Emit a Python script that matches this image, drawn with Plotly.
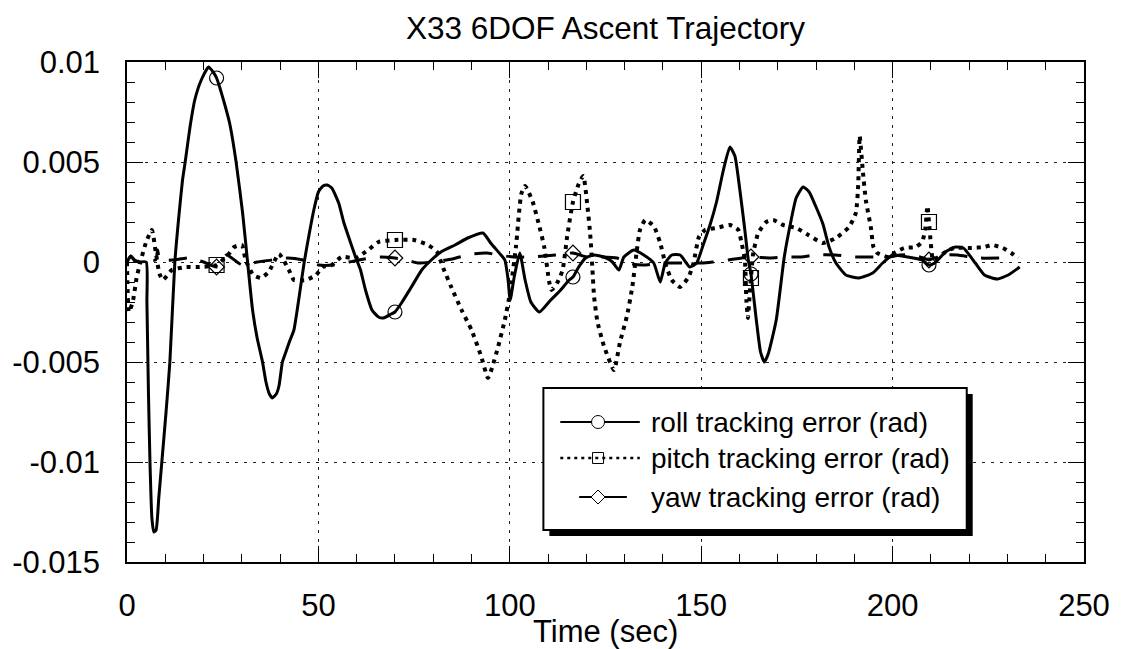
import numpy as np
import plotly.graph_objects as go

# ---- roll tracking error (rad) ----
t_roll = [0, 1, 2, 3, 5.0, 5.2, 5.6, 6.0, 6.5, 7.0, 7.6, 8.3, 9.1, 10.2, 11.2, 12.5,
          13.5, 14.5, 15.2, 16.5, 17.7, 19.4, 21.3, 22.5, 23.4, 24.2, 25.5, 26.8, 28.5,
          30.2, 31.5, 32.8, 34.0, 35.4, 36.3, 37.2, 38.0, 39.0, 39.7, 40.6, 41.5, 42.4,
          43.6, 45.0, 46.3, 47.5, 48.8, 50.0, 51.2, 52.3, 53.5, 55.3, 56.6, 57.9, 59.7,
          61.0, 62.3, 64.0, 65.7, 67.0, 69.0, 70.0, 71.7, 74.3, 77.0, 79.5, 82.0, 85.7,
          89.0, 93.0, 95.0, 97.7, 98.7, 99.5, 100.1, 101.2, 102.6, 104.0, 105.5, 107.7,
          110.7, 113.3, 115.5, 116.5, 118.0, 119.8, 122.0, 124.6, 126.8, 128.5, 129.8,
          132.4, 135.0, 137.6, 139.3, 140.6, 142.3, 144.5, 147.0, 148.8, 150.6, 152.3,
          154.0, 155.8, 157.5, 158.8, 160.0, 161.4, 162.3, 163.0, 164.4, 165.5, 166.5,
          167.5, 169.6, 171.7, 173.5, 174.8, 176.6, 178.2, 180.0, 181.8, 183.4, 185.2,
          187.8, 191.2, 194.8, 197.4, 200.0, 204.0, 207.7, 209.5, 211.0, 213.8, 216.4,
          218.5, 221.6, 224.0, 227.3, 230.2, 233.2]
roll = [0, 0.0003, 0.0001, 0, 0, -0.002, -0.0065, -0.010, -0.0128, -0.0135, -0.0134,
        -0.0118, -0.0100, -0.0075, -0.0050, 0.0, 0.0022, 0.0041, 0.0050, 0.0068, 0.0081,
        0.0091, 0.00975, 0.0095, 0.0092, 0.00875, 0.0079, 0.00695, 0.0050, 0.00245, 0.0,
        -0.0024, -0.0038, -0.0050, -0.0060, -0.0066, -0.0068, -0.0066, -0.0062, -0.0050,
        -0.0045, -0.0040, -0.0034, -0.0017, 0.0, 0.0013, 0.0026, 0.0035, 0.0038, 0.00385,
        0.0037, 0.00295, 0.0020, 0.00125, 0.00025, -0.0004, -0.0014, -0.0024, -0.00275,
        -0.0028, -0.0026, -0.0025, -0.00205, -0.00125, -0.0004, 0.0001, 0.0005, 0.00085,
        0.0012, 0.00145, 0.00095, 0.00035, 0.0001, -0.0008, -0.0019, -0.0007, 0.00045,
        -0.0009, -0.0020, -0.0025, -0.0019, -0.0014, -0.0009, -0.00075, -0.00025, 0.0002,
        0.00035, 0.00025, 0.0, -0.0004, 0.00025, 0.0006, 0.00035, -0.00005, -0.001,
        -0.00005, 0.00035, 0.00035, -0.00025, -0.00005, 0.0009, 0.00185, 0.0030, 0.0046,
        0.00575, 0.0053, 0.00375, 0.0016, 0.0001, -0.0006, -0.0029, -0.0045, -0.0050,
        -0.0046, -0.0029, 0.00025, 0.0021, 0.0032, 0.00375, 0.0035, 0.00275, 0.0019,
        0.00075, -0.00005, -0.00065, -0.0008, -0.00055, -0.00005, 0.00035, 0.00025,
        0.0001, -0.00015, -0.00005, 0.0005, 0.00075, 0.0007, -0.00005, -0.00065,
        -0.00085, -0.00065, -0.00025]

# ---- pitch tracking error (rad) ----
t_pitch = [0, 0.5, 1.5, 2.5, 3.5, 5.0, 6.5, 7.5, 8.5, 9.4, 11.7, 15.5, 19.0, 23.4, 26.8,
           28.0, 30.0, 31.0, 33.0, 35.0, 37.0, 39.7, 42.3, 43.6, 46.7, 49.4, 51.0, 53.5,
           56.0, 59.7, 63.0, 65.7, 70.0, 75.0, 78.7, 81.0, 82.6, 84.7, 87.4, 90.0, 92.5,
           94.3, 95.5, 97.0, 98.7, 100.0, 101.6, 103.0, 104.0, 106.0, 107.7, 109.0, 110.3,
           110.9, 112.5, 113.8, 115.0, 116.5, 118.0, 119.2, 120.3, 121.0, 121.6, 122.0,
           122.9, 124.6, 127.2, 128.8, 130.6, 132.0, 133.2, 134.0, 135.4, 137.6, 139.3,
           140.6, 142.3, 144.5, 146.7, 148.0, 149.4, 151.0, 154.0, 157.5, 159.7, 160.5,
           161.4, 161.8, 162.2, 162.6, 163.0, 163.6, 164.9, 167.0, 168.8, 171.4, 174.8,
           178.0, 181.8, 185.2, 188.6, 190.4, 191.0, 191.4, 192.2, 193.0, 194.3, 195.0,
           196.0, 199.0, 200.8, 203.0, 206.0, 207.7, 208.5, 209.1, 209.5, 210.0, 210.6,
           213.8, 216.0, 220.7, 224.0, 226.0, 228.8, 231.0, 232.8]
pitch = [0, -0.0025, -0.002, -0.0008, 0.0, 0.001, 0.0016, 0.0005, -0.0006, -0.0009,
         -0.0004, -0.00025, -0.00025, -0.00015, 0.00045, 0.00075, 0.00085, 0.0001,
         -0.00065, -0.0008, -0.0005, 0.0004, -0.0004, -0.0009, -0.0009, -0.00065,
         -0.00025, -0.00015, 0.00025, 0.0002, 0.0006, 0.001, 0.0011, 0.0011, 0.00085,
         0.0005, -0.0003, -0.00125, -0.0024, -0.0034, -0.0047, -0.0058, -0.0052, -0.0042,
         -0.0029, -0.0016, 0.00075, 0.0034, 0.0038, 0.0030, 0.0018, 0.00075, -0.001,
         -0.0014, -0.001, -0.0004, 0.0013, 0.003, 0.0039, 0.0043, 0.00275, 0.0014,
         -0.0004, -0.0017, -0.003, -0.0042, -0.0054, -0.0040, -0.0027, -0.00125, 0.0006,
         0.0016, 0.0021, 0.0018, 0.00095, -0.00005, -0.0009, -0.00125, -0.00075,
         -0.00005, 0.00125, 0.0016, 0.0017, 0.00185, 0.0016, 0.001, 0.0001, -0.0019,
         -0.0028, -0.0018, -0.0008, 0.00045, 0.00145, 0.002, 0.0021, 0.00185, 0.0017,
         0.00135, 0.00095, 0.0012, 0.00175, 0.00245, 0.0038, 0.0063, 0.0046, 0.0031,
         0.00175, 0.00075, 0.00045, 0.00025, 0.0005, 0.0007, 0.00075, 0.001, 0.0016,
         0.0028, 0.002, 0.0009, 0.0001, 0.0005, 0.0007, 0.0007, 0.00075, 0.00085, 0.0007,
         0.00045, 0.0002]

# ---- yaw tracking error (rad) ----
t_yaw = [0, 1, 2, 5, 7.5, 8.0, 8.6, 12, 16, 20, 23.4, 26, 30, 34, 38, 42, 46, 50, 54,
         58, 62, 66, 70, 73, 76, 80, 85, 90, 94, 97, 101, 106, 112, 116.5, 120, 124, 128,
         132, 135, 140, 145, 150, 153, 157, 163, 168, 172, 176, 180, 185, 190, 195, 199,
         202, 205, 208, 209.5, 213, 217, 222, 228]
yaw = [0, 0.0003, 0.00005, 0.00005, 0.0001, 0.0006, 0.0001, 0.0001, 0.0002, 0.0,
       -0.00025, 0.00035, -0.00015, 0.0, 0.0001, 0.0002, 0.0001, -0.00015, -0.00015, 0.0,
       0.00015, 0.00025, 0.0002, 0.0001, -0.00005, 0.0, 0.00015, 0.0004, 0.00045,
       0.00035, 0.00025, 0.00025, 0.00035, 0.00045, 0.00025, 0.00025, 0.0002, -0.0001,
       -0.00015, -0.00005, -0.00005, -0.00005, 0.0, 0.0001, 0.00025, 0.0002, 0.00025,
       0.00025, 0.00035, 0.00035, 0.00025, 0.00025, 0.00025, 0.00035, 0.00035, 0.0002,
       0.0001, 0.00035, 0.00035, 0.0002, 0.0002]

# symbol positions along each curve (s)
t_marks = [23.4, 70.0, 116.5, 163.0, 209.5]

x_ticks = [0, 50, 100, 150, 200, 250]
y_ticks = [0.01, 0.005, 0, -0.005, -0.01, -0.015]
y_tick_text = ["0.01", "0.005", "0", "-0.005", "-0.01", "-0.015"]

legend_labels = ["roll tracking error (rad)",
                 "pitch tracking error (rad)",
                 "yaw tracking error (rad)"]

FONT = "Liberation Sans, Arial, Helvetica, sans-serif"
PITCH_DASH = "4px,5px"
YAW_DASH = "18px,14px"

fig = go.Figure()

series = [
    (t_roll, roll, dict(color="black", width=3), "circle-open", 14),
    (t_pitch, pitch, dict(color="black", width=4, dash=PITCH_DASH), "square-open", 15),
    (t_yaw, yaw, dict(color="black", width=3, dash=YAW_DASH), "diamond-open", 12),
]
for (tt, vv, line, sym, size), name in zip(series, legend_labels):
    fig.add_trace(go.Scatter(x=tt, y=vv, mode="lines", name=name, showlegend=False,
                             line=dict(shape="spline", smoothing=0.5, **line)))
    fig.add_trace(go.Scatter(x=t_marks, y=np.interp(t_marks, tt, vv), mode="markers",
                             marker=dict(symbol=sym, size=size, color="black",
                                         line=dict(color="black", width=1.2)),
                             showlegend=False, hoverinfo="skip"))

axis_common = dict(
    showline=True, linecolor="black", linewidth=1.5, mirror="allticks",
    ticks="inside", ticklen=16, tickwidth=1.2, tickcolor="black",
    showgrid=True, gridcolor="#222222", gridwidth=1, griddash="3px,6px",
    zeroline=False, tickfont=dict(family=FONT, size=31, color="black"),
)
fig.update_xaxes(range=[0, 250], tickmode="array", tickvals=x_ticks,
                 ticktext=[str(v) for v in x_ticks], ticklabelstandoff=15,
                 minor=dict(dtick=10, ticks="inside", ticklen=8, tickwidth=1.2,
                            tickcolor="black", showgrid=False),
                 **axis_common)
fig.update_yaxes(range=[-0.015, 0.01], tickmode="array", tickvals=y_ticks,
                 ticktext=y_tick_text, ticklabelstandoff=19,
                 minor=dict(dtick=0.001, tick0=0, ticks="inside", ticklen=8,
                            tickwidth=1.2, tickcolor="black", showgrid=False),
                 **axis_common)

# ---- legend box drawn with shadow ----
W, H = 963.0, 500.0          # plot area size in px
X0, Y0 = 127.0, 562.0        # plot area origin (left, bottom) in px


def px(x):
    return (x - X0) / W


def py(y):
    return (Y0 - y) / H


shapes = [
    dict(type="rect", xref="paper", yref="paper", layer="above",
         x0=px(552), x1=px(978), y0=py(536), y1=py(394),
         fillcolor="black", line=dict(width=0)),
    dict(type="rect", xref="paper", yref="paper", layer="above",
         x0=px(546), x1=px(972), y0=py(530), y1=py(388),
         fillcolor="white", line=dict(color="black", width=2)),
]
rows_y = [422, 458, 497]
mx = px(601)
# sample lines
shapes.append(dict(type="line", xref="paper", yref="paper", layer="above",
                   x0=px(563), x1=px(643), y0=py(rows_y[0]), y1=py(rows_y[0]),
                   line=dict(color="black", width=2)))
shapes.append(dict(type="line", xref="paper", yref="paper", layer="above",
                   x0=px(563), x1=px(643), y0=py(rows_y[1]), y1=py(rows_y[1]),
                   line=dict(color="black", width=2.5, dash="3px,4px")))
shapes.append(dict(type="line", xref="paper", yref="paper", layer="above",
                   x0=px(582), x1=px(595), y0=py(rows_y[2]), y1=py(rows_y[2]),
                   line=dict(color="black", width=2)))
shapes.append(dict(type="line", xref="paper", yref="paper", layer="above",
                   x0=px(607), x1=px(630), y0=py(rows_y[2]), y1=py(rows_y[2]),
                   line=dict(color="black", width=2)))
# sample symbols
shapes.append(dict(type="circle", xref="paper", yref="paper", layer="above",
                   xsizemode="pixel", ysizemode="pixel", xanchor=mx,
                   yanchor=py(rows_y[0]), x0=-6.5, x1=6.5, y0=-6.5, y1=6.5,
                   fillcolor="white", line=dict(color="black", width=1)))
shapes.append(dict(type="rect", xref="paper", yref="paper", layer="above",
                   xsizemode="pixel", ysizemode="pixel", xanchor=mx,
                   yanchor=py(rows_y[1]), x0=-5.5, x1=5.5, y0=-5.5, y1=5.5,
                   fillcolor="rgba(0,0,0,0)", line=dict(color="black", width=1)))
shapes.append(dict(type="path", xref="paper", yref="paper", layer="above",
                   xsizemode="pixel", ysizemode="pixel", xanchor=mx,
                   yanchor=py(rows_y[2]), path="M0,7 L7,0 L0,-7 L-7,0 Z",
                   fillcolor="white", line=dict(color="black", width=1)))

annotations = [
    dict(text=lab, xref="paper", yref="paper", x=px(652), y=py(ry),
         xanchor="left", yanchor="middle", showarrow=False,
         font=dict(family=FONT, size=28, color="black"))
    for lab, ry in zip(legend_labels, rows_y)
]
annotations.append(dict(text="Time (sec)", xref="paper", yref="paper", x=0.5,
                        y=py(631), xanchor="center", yanchor="middle",
                        showarrow=False,
                        font=dict(family=FONT, size=31, color="black")))

fig.update_layout(
    width=1122, height=649,
    margin=dict(l=127, r=32, t=62, b=87),
    paper_bgcolor="white", plot_bgcolor="white",
    title=dict(text="X33 6DOF Ascent Trajectory", x=0.5, xref="paper",
               y=1 - 28 / 649, yanchor="middle",
               font=dict(family=FONT, size=31.5, color="black")),
    shapes=shapes, annotations=annotations, showlegend=False,
)

fig.write_html("out.html")
